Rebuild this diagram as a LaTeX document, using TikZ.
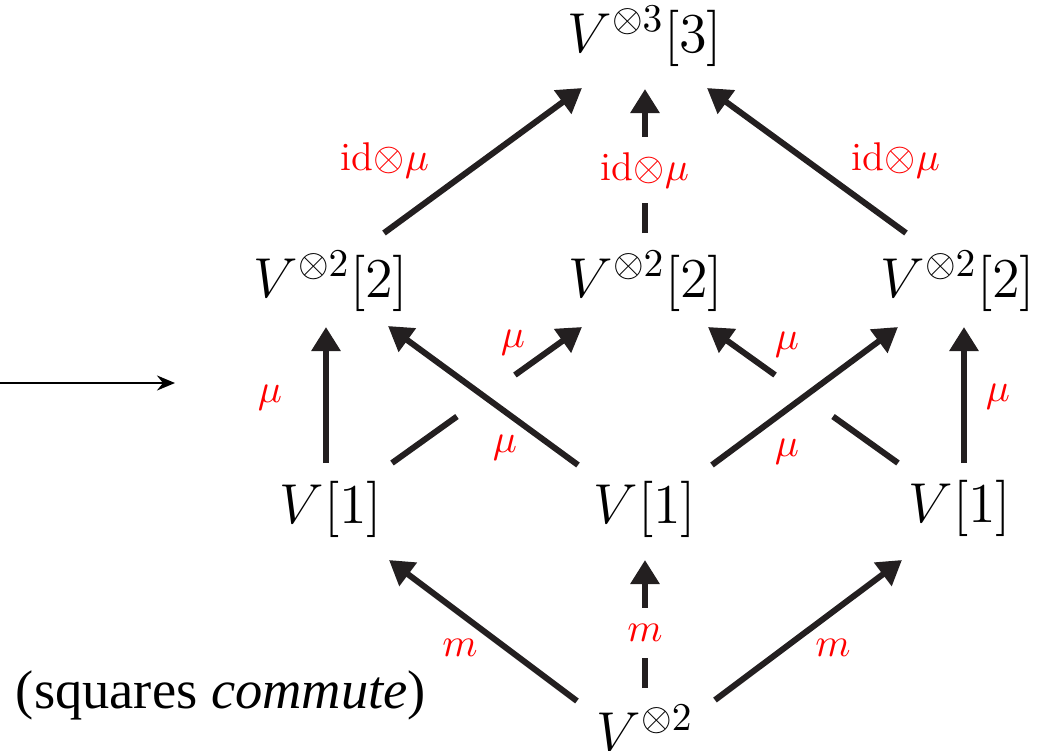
\documentclass[tikz,border=0pt]{standalone}
\usepackage{fix-cm}
\usepackage{fontspec}
\newfontfamily\capfont{Liberation Serif}
\usetikzlibrary{arrows.meta,calc}
\definecolor{ink}{HTML}{231F20}
\begin{document}
\begin{tikzpicture}[x=0.01cm,y=-0.01cm,
  obj/.style={anchor=base, inner sep=0pt, font=\fontsize{16}{19}\selectfont},
  lab/.style={text=red, inner sep=0pt, font=\fontsize{11.4}{14}\selectfont},
  gaplab/.style={lab, fill=white, inner xsep=2pt},
  arr/.style={draw=ink, line width=0.06cm, -{Triangle[length=0.24cm,width=0.28cm]}},
  seg/.style={draw=ink, line width=0.06cm},
  thinarr/.style={draw=black, line width=0.025cm, -{Stealth[length=0.18cm,width=0.15cm,inset=0.06cm]}}]
\useasboundingbox (0,0) rectangle (1050,751);

% objects
\node[obj] (top) at (645,52) {$V^{\otimes 3}[3]$};
\node[obj] (m1) at (331,297) {$V^{\otimes 2}[2]$};
\node[obj] (m2) at (646,297) {$V^{\otimes 2}[2]$};
\node[obj] (m3) at (958,297) {$V^{\otimes 2}[2]$};
\node[obj] (l1) at (331,523) {$V[1]$};
\node[obj] (l2) at (645,523) {$V[1]$};
\node[obj] (l3) at (960,522) {$V[1]$};
\node[obj] (bot) at (645,751) {$V^{\otimes 2}$};
\node[anchor=base, inner sep=0pt, font=\capfont\fontsize{15.5}{18}\selectfont] (cap) at (221,708) {(squares \textit{commute})};

% free arrow on the left
\coordinate (ls) at (0,383);
\coordinate (le) at (175,383);
\draw[thinarr] (ls) -- (le);

% arrow end points
\coordinate (a3s) at ($(l1.base)+(61,-60)$);
\coordinate (a3t) at ($(m2.base)+(-64,30)$);
\coordinate (a5s) at ($(l3.base)+(-62,-59)$);
\coordinate (a5t) at ($(m2.base)+(62,30)$);

% under-crossing arrows (broken)
\draw[seg] (a3s) -- ($(a3s)!0.342!(a3t)$);
\draw[arr] ($(a3s)!0.647!(a3t)$) -- (a3t);
\draw[seg] (a5s) -- ($(a5s)!0.342!(a5t)$);
\draw[arr] ($(a5s)!0.647!(a5t)$) -- (a5t);

% V[1] -> V^{\otimes2}[2]
\draw[arr] ($(l1.base)+(-5,-60)$) -- ($(m1.base)+(-5,30)$);
\draw[arr] ($(l2.base)+(-67,-58)$) -- ($(m1.base)+(57,29)$);
\draw[arr] ($(l2.base)+(67,-58)$) -- ($(m3.base)+(-60,30)$);
\draw[arr] ($(l3.base)+(4,-59)$) -- ($(m3.base)+(6,30)$);

% V^{\otimes2}[2] -> V^{\otimes3}[3]
\draw[arr] ($(m1.base)+(53,-64)$) -- ($(top.base)+(-63,36)$);
\draw[arr] ($(m2.base)+(-1,-64)$) -- ($(top.base)+(0,37)$);
\draw[arr] ($(m3.base)+(-52,-64)$) -- ($(top.base)+(62,36)$);

% V^{\otimes2} -> V[1]
\draw[arr] ($(bot.base)+(-68,-50)$) -- ($(l1.base)+(58,37)$);
\draw[arr] ($(bot.base)+(0,-63)$) -- ($(l2.base)+(0,37)$);
\draw[arr] ($(bot.base)+(70,-51)$) -- ($(l3.base)+(-58,38)$);

% labels
\node[gaplab, inner ysep=0.15cm] (t2) at (645,170) {$\mathrm{id}{\otimes}\mu$};
\node[gaplab, inner ysep=0.165cm] (b2) at (645,633) {$m$};
\node[lab] (t1) at (385,160) {$\mathrm{id}{\otimes}\mu$};
\node[lab] (t3) at (896,160) {$\mathrm{id}{\otimes}\mu$};
\node[lab] (u1) at (270,398) {$\mu$};
\node[lab] (u6) at (998,397) {$\mu$};
\node[lab] (u3) at (513,343) {$\mu$};
\node[lab] (u2) at (505,448) {$\mu$};
\node[lab] (u5) at (787,345) {$\mu$};
\node[lab] (u4) at (787,452) {$\mu$};
\node[lab] (b1) at (460,648) {$m$};
\node[lab] (b3) at (833,648) {$m$};
\end{tikzpicture}
\end{document}
